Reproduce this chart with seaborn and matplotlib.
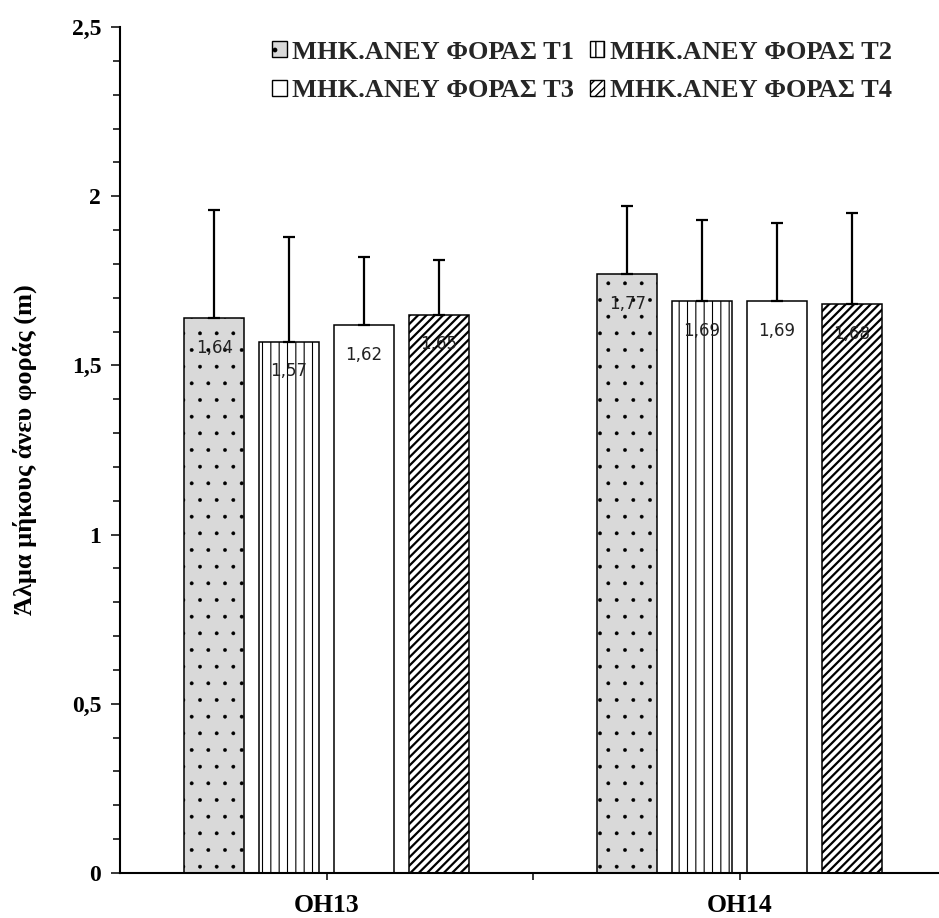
import numpy as np
import pandas as pd
import seaborn as sns
import matplotlib.pyplot as plt
from matplotlib.patches import Patch
from matplotlib.ticker import FuncFormatter, MultipleLocator, FixedLocator

# Data
groups = ['OH13', 'OH14']
series = ['ΜΗΚ.ΑΝΕΥ ΦΟΡΑΣ Τ1', 'ΜΗΚ.ΑΝΕΥ ΦΟΡΑΣ Τ2',
          'ΜΗΚ.ΑΝΕΥ ΦΟΡΑΣ Τ3', 'ΜΗΚ.ΑΝΕΥ ΦΟΡΑΣ Τ4']
means_oh13 = [1.64, 1.57, 1.62, 1.65]
means_oh14 = [1.77, 1.69, 1.69, 1.68]
sd_oh13 = [0.32, 0.31, 0.20, 0.16]
sd_oh14 = [0.20, 0.24, 0.23, 0.27]

# Styling per series
face_colors = ['#d9d9d9', 'white', 'white', 'white']
hatches = ['.', '||', '', '////']
hatch_lw = [0.3, 0.8, 1.0, 1.6]

sns.set_style('white')
plt.rcParams['font.family'] = ['Liberation Serif', 'DejaVu Serif']
plt.rcParams['font.weight'] = 'bold'


def use_hatch_lw(artist, lw):
    # hatch line width is read when the patch is drawn
    orig_draw = artist.draw

    def draw(renderer):
        with plt.rc_context({'hatch.linewidth': lw}):
            orig_draw(renderer)
    artist.draw = draw
    if hasattr(artist, 'set_hatch_linewidth'):
        artist.set_hatch_linewidth(lw)


# Build long-form table
df = pd.DataFrame({
    'group': [g for g in groups for _ in series],
    'series': series * len(groups),
    'value': means_oh13 + means_oh14,
    'sd': sd_oh13 + sd_oh14,
})

fig = plt.figure(figsize=(9.39, 9.18), dpi=100)
ax = fig.add_axes([120 / 939, 45 / 918, 826 / 939, 846 / 918])

sns.barplot(data=df, x='group', y='value', hue='series', order=groups,
            hue_order=series, palette=face_colors, errorbar=None,
            width=0.725, gap=0.2, edgecolor='black', linewidth=1.1,
            saturation=1, legend=False, ax=ax)

# Patterns, error bars (upper only) and value labels
bar_conts = list(ax.containers)
for i, cont in enumerate(bar_conts):
    for j, bar in enumerate(cont.patches):
        bar.set_hatch(hatches[i])
        use_hatch_lw(bar, hatch_lw[i])
        val = df[(df.series == series[i]) & (df.group == groups[j])]
        v = val['value'].iloc[0]
        s = val['sd'].iloc[0]
        xc = bar.get_x() + bar.get_width() / 2
        ax.errorbar(xc, v, yerr=[[0], [s]], fmt='none', ecolor='black',
                    elinewidth=1.6, capsize=4.5, capthick=1.6, zorder=1)
        ax.text(xc, v - 0.088, f'{v:.2f}'.replace('.', ','), ha='center',
                va='center', fontsize=12, family='DejaVu Sans',
                fontweight='normal', color='#222222', zorder=5)

ax.set_xlim(-0.5, 1.5)
ax.set_ylim(0, 2.5)
ax.yaxis.set_major_locator(MultipleLocator(0.5))
ax.yaxis.set_minor_locator(MultipleLocator(0.1))
ax.yaxis.set_major_formatter(FuncFormatter(lambda v, p: f'{v:g}'.replace('.', ',')))
ax.xaxis.set_minor_locator(FixedLocator([0.5]))

for sp in ['top', 'right']:
    ax.spines[sp].set_visible(False)
for sp in ['left', 'bottom']:
    ax.spines[sp].set_linewidth(1.5)
    ax.spines[sp].set_color('black')

ax.tick_params(axis='y', which='major', direction='out', length=6.5, width=1.3,
               left=True, pad=7, labelsize=17, labelcolor='black')
ax.tick_params(axis='y', which='minor', direction='out', length=5, width=1.3,
               left=True)
ax.tick_params(axis='x', which='both', direction='out', length=5, width=1.3,
               bottom=True, pad=10, labelsize=18.5, labelcolor='black')

ax.set_xlabel('')
ax.set_ylabel('Άλμα μήκους άνευ φοράς (m)', fontsize=19, fontweight='bold',
              color='black')
ax.yaxis.set_label_coords(-0.1, 0.5)

# Legend: row 1 = T1, T2 ; row 2 = T3, T4 (matplotlib fills by column)
handles = []
for i in range(len(series)):
    h = Patch(facecolor=face_colors[i], edgecolor='black', hatch=hatches[i],
              linewidth=1.0)
    handles.append(h)
order = [0, 2, 1, 3]
leg = ax.legend([handles[k] for k in order], [series[k] for k in order],
                loc='upper right', bbox_to_anchor=(0.963, 1.012),
                ncol=2, frameon=False, prop={'weight': 'bold', 'size': 19},
                handlelength=0.55, handleheight=0.55, handletextpad=0.2,
                columnspacing=0.6, labelspacing=0.6)

fig.savefig('out.png', dpi=100)
